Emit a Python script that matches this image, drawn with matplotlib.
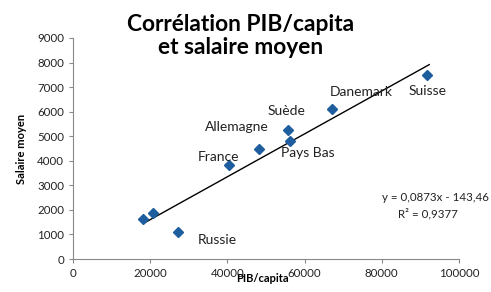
import matplotlib
matplotlib.use('Agg')
import matplotlib.pyplot as plt
import numpy as np

plt.rcParams['font.family'] = ['Lato', 'DejaVu Sans']

# data
pays = ['', '', 'Russie', 'France', 'Allemagne', 'Suède', 'Pays Bas', 'Danemark', 'Suisse']
pib = [18200, 20700, 27300, 40300, 48100, 55700, 56300, 67000, 91800]
salaire = [1630, 1860, 1085, 3820, 4470, 5260, 4810, 6110, 7480]
pente = 0.0873
origine = -143.46
r2 = 0.9377

# label offsets in pixels (left edge, vertical centre)
decal = {'Russie': (19, -8), 'France': (-31, 8), 'Allemagne': (-54, 22),
         'Suède': (-20, 19), 'Pays Bas': (-9, -12), 'Danemark': (-2, 17),
         'Suisse': (-19, -16)}

fig = plt.figure(figsize=(4.91, 2.92), dpi=100)
ax = fig.add_axes([0.1487, 0.113, 0.786, 0.757])

gris = '#8a8a8a'
ax.plot(pib, salaire, 'D', color='#1f5e9e', markersize=5.5, zorder=3)

xs = np.array([min(pib), max(pib) + 500])
ax.plot(xs, pente * xs + origine, color='black', lw=1.0, zorder=2)

for p, x, y in zip(pays, pib, salaire):
    if p:
        ax.annotate(p, (x, y), xytext=decal[p], textcoords='offset pixels',
                    fontsize=10, color='#222222', ha='left', va='center')

fig.text(0.778, 0.325, 'y = 0,0873x - 143,46', fontsize=8.3, ha='left',
         va='center', color='#222222')
fig.text(0.81, 0.267, 'R² = 0,9377', fontsize=8.3, ha='left',
         va='center', color='#222222')

ax.set_xlim(0, 100000)
ax.set_ylim(0, 9000)
ax.set_xticks(range(0, 100001, 20000))
ax.set_yticks(range(0, 9001, 1000))
ax.tick_params(labelsize=8.3, colors='#222222', length=3, width=0.8)
ax.tick_params(axis='both', color=gris)
for s in ['top', 'right']:
    ax.spines[s].set_visible(False)
for s in ['left', 'bottom']:
    ax.spines[s].set_color(gris)
    ax.spines[s].set_linewidth(0.8)

ax.set_xlabel('PIB/capita', fontsize=8, fontweight='bold')
ax.xaxis.set_label_coords(0.49, -0.065)
ax.set_ylabel('Salaire moyen', fontsize=8, fontweight='bold')
ax.yaxis.set_label_coords(-0.12, 0.5)

fig.text(0.49, 0.80, 'Corrélation PIB/capita\net salaire moyen', ha='center',
         va='bottom', fontsize=16.4, fontweight='bold', linespacing=1.15)

fig.savefig('out.png', dpi=100)
